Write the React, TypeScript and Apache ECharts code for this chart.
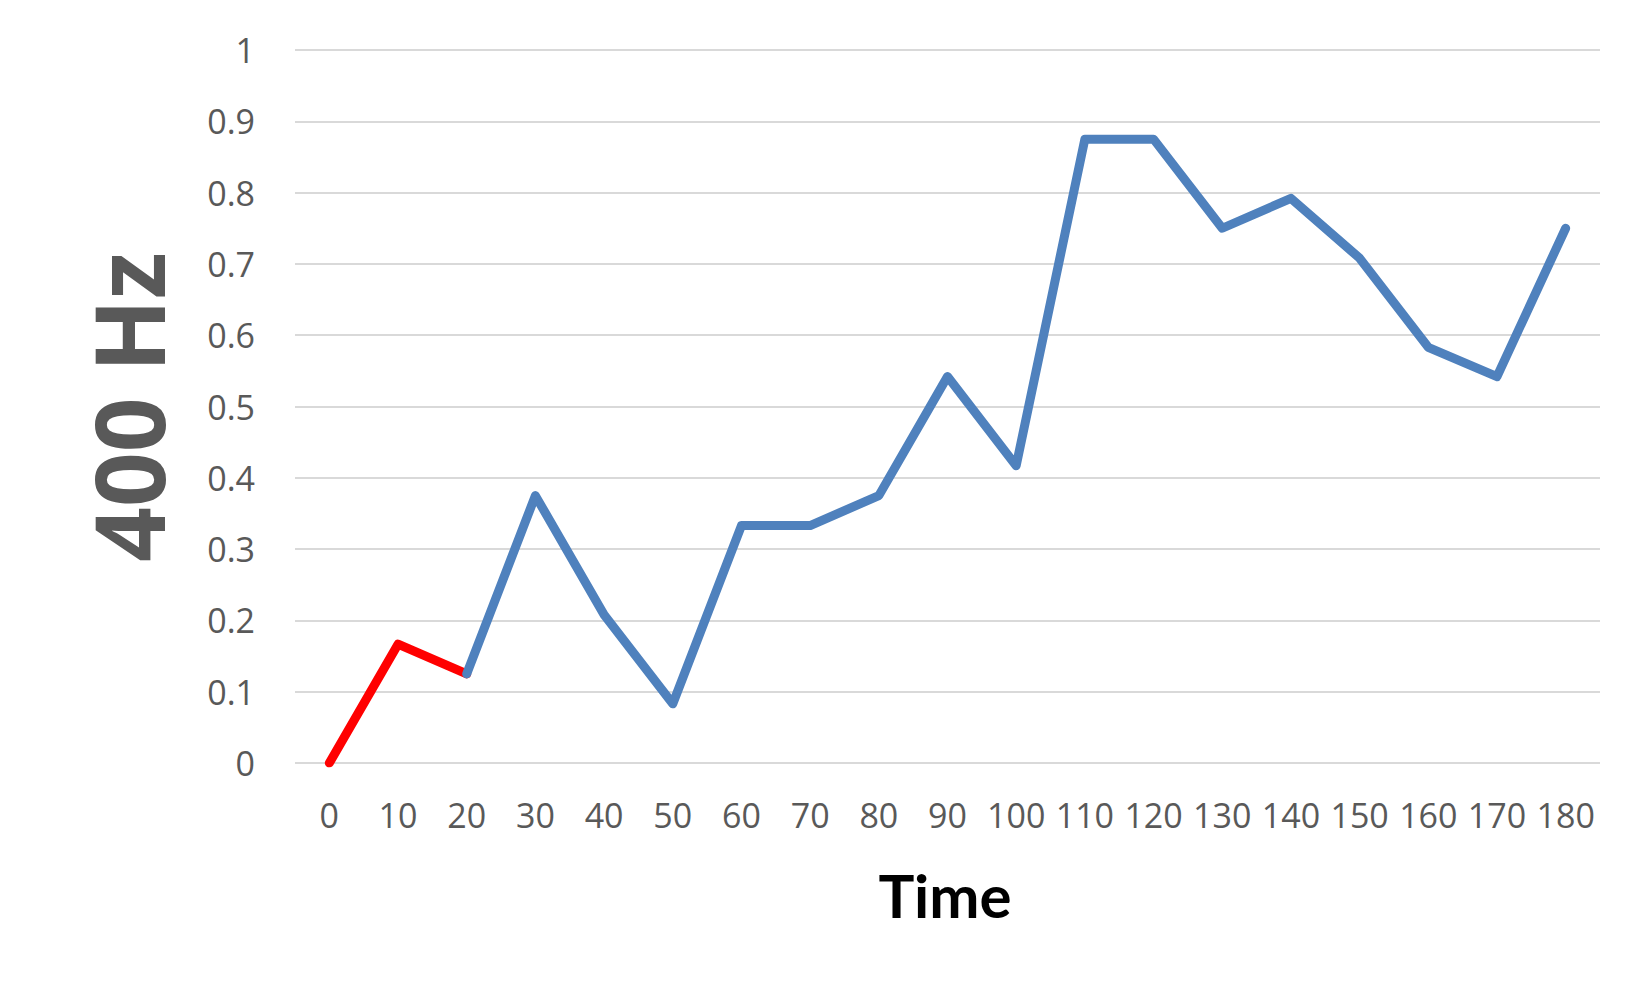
import React, { useEffect, useRef } from "react";
import * as echarts from "echarts";

const categories = ["0", "10", "20", "30", "40", "50", "60", "70", "80", "90", "100", "110", "120", "130", "140", "150", "160", "170", "180"];
const redValues: (number | string)[] = [0, 0.1667, 0.125, "-", "-", "-", "-", "-", "-", "-", "-", "-", "-", "-", "-", "-", "-", "-", "-"];
const blueValues: (number | string)[] = ["-", "-", 0.125, 0.375, 0.208, 0.083, 0.333, 0.333, 0.375, 0.542, 0.417, 0.875, 0.875, 0.75, 0.792, 0.708, 0.583, 0.542, 0.75];
const yTitle = "400 Hz";
const xTitle = "Time";

export default function App() {
  const ref = useRef<HTMLDivElement>(null);
  useEffect(() => {
    if (!ref.current) return;
    const chart = echarts.init(ref.current, undefined, { renderer: "svg" });
    chart.setOption({
      animation: false,
      backgroundColor: "#ffffff",
      grid: { left: 295, right: 49, top: 50, bottom: 227, containLabel: false },
      xAxis: {
        type: "category",
        data: categories,
        boundaryGap: true,
        axisLine: { show: false },
        axisTick: { show: false },
        axisLabel: {
          interval: 0,
          margin: 35,
          color: "#595959",
          fontFamily: "Open Sans",
          fontSize: 34,
          lineHeight: 34,
        },
        splitLine: { show: false },
      },
      yAxis: {
        type: "value",
        min: 0,
        max: 1,
        interval: 0.1,
        axisLine: { show: false },
        axisTick: { show: false },
        axisLabel: {
          margin: 40,
          color: "#595959",
          fontFamily: "Open Sans",
          fontSize: 34,
          formatter: (v: number) => String(parseFloat(v.toFixed(1))),
        },
        splitLine: { show: true, lineStyle: { color: "#d9d9d9", width: 2 } },
      },
      graphic: [
        {
          type: "text",
          x: 127,
          y: 407,
          rotation: Math.PI / 2,
          style: {
            text: yTitle,
            fontFamily: "Open Sans",
            fontWeight: "bold",
            fontSize: 96,
            fill: "#595959",
            textAlign: "center",
            textVerticalAlign: "middle",
          },
        },
        {
          type: "text",
          x: 945,
          y: 895,
          style: {
            text: xTitle,
            fontFamily: "Lato",
            fontWeight: "bold",
            fontSize: 60,
            fill: "#000000",
            textAlign: "center",
            textVerticalAlign: "middle",
          },
        },
      ],
      series: [
        {
          type: "line",
          data: redValues,
          showSymbol: false,
          lineStyle: { color: "#ff0000", width: 9, cap: "round", join: "round" },
          itemStyle: { color: "#ff0000" },
          z: 2,
        },
        {
          type: "line",
          data: blueValues,
          showSymbol: false,
          lineStyle: { color: "#4f81bd", width: 9, cap: "round", join: "round" },
          itemStyle: { color: "#4f81bd" },
          z: 3,
        },
      ],
    });
    return () => chart.dispose();
  }, []);
  return (
    <div
      ref={ref}
      style={{ position: "fixed", left: 0, top: 0, width: 1649, height: 990 }}
    />
  );
}
